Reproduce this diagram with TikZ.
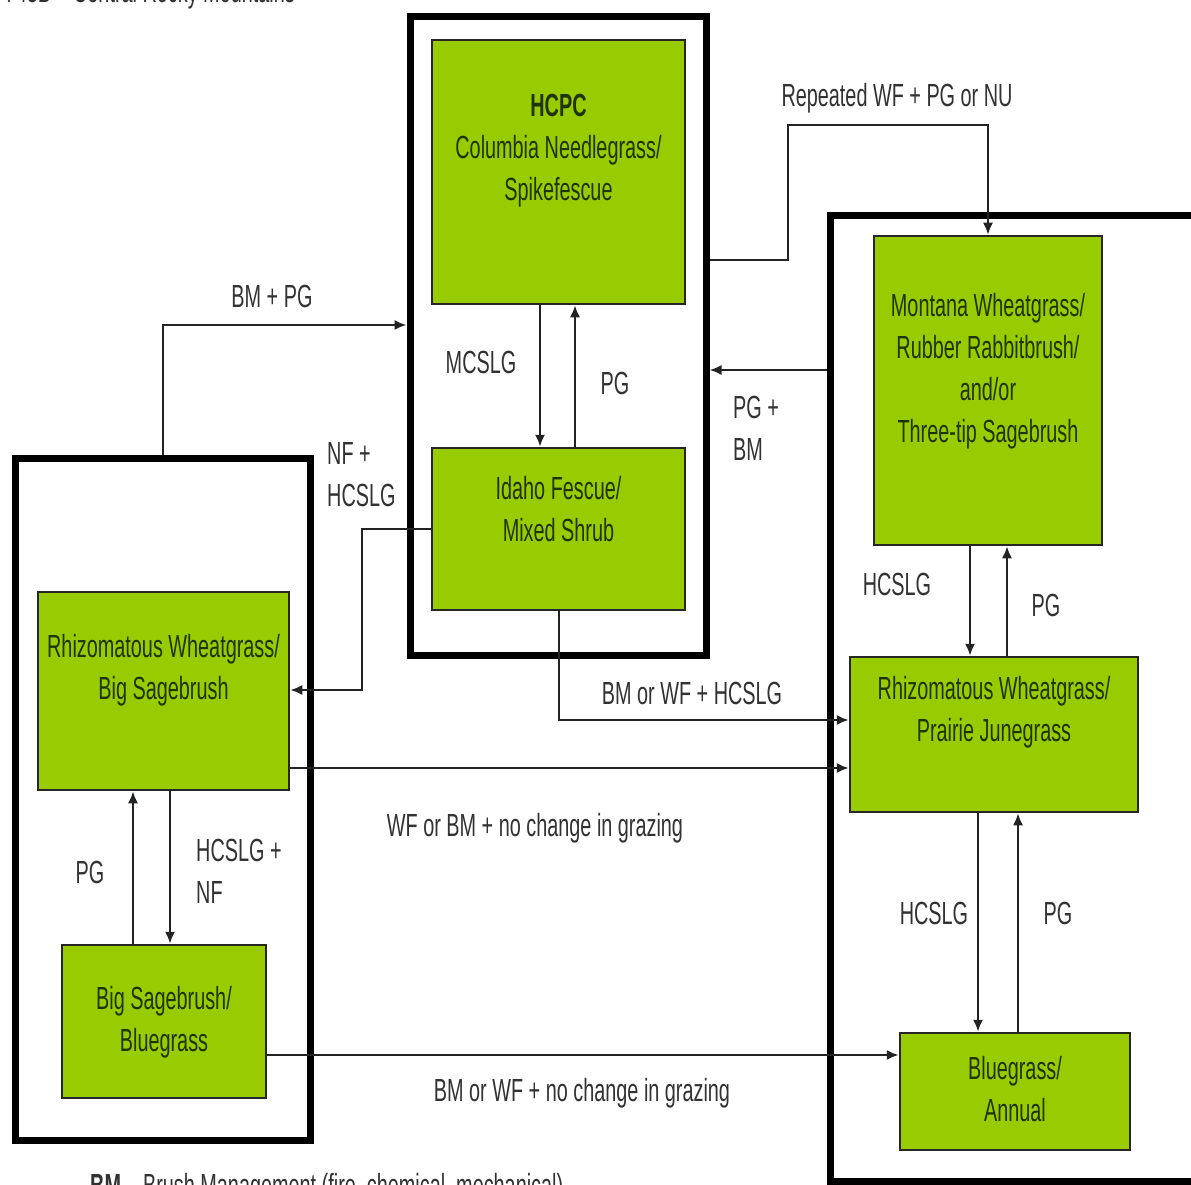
\documentclass[tikz,border=0pt]{standalone}
\usepackage{fontspec}
\setmainfont{Liberation Sans}[FakeStretch=0.62]
\usetikzlibrary{arrows.meta}
\definecolor{gfill}{RGB}{153,204,0}
\definecolor{gtext}{RGB}{32,52,0}
\definecolor{ltext}{RGB}{50,50,50}
\definecolor{cline}{RGB}{35,35,35}
\begin{document}
\begin{tikzpicture}[x=1pt,y=-1pt,
  every node/.style={font=\fontsize{32}{42}\selectfont},
  statebox/.style={draw=black, line width=7pt, inner sep=0pt},
  gbox/.style={draw=black!85, fill=gfill, line width=2.5pt, inner sep=0pt},
  gtxt/.style={text=gtext, align=center, inner sep=0pt},
  lbl/.style={text=ltext, inner sep=0pt},
  conn/.style={draw=cline, line width=2pt},
  arr/.style={conn, -{Latex[length=12pt,width=10pt]}}]
\useasboundingbox (0,0) rectangle (1191,1185);
\fill[white] (0,0) rectangle (1191,1185);

% header / legend (cut by page edges, as in the reference)
\node[lbl, anchor=base east] (hdr) at (295,3) {MLRA 43B – Central Rocky Mountains};
\node[lbl, anchor=base west] (legend) at (90,1196) {\textbf{BM} – Brush Management (fire, chemical, mechanical)};

% state boxes
\node[statebox, minimum width=296pt, minimum height=638pt] (cstate) at (558,336) {};
\node[statebox, minimum width=295pt, minimum height=682pt] (lstate) at (162.5,799) {};
\node[statebox, minimum width=390pt, minimum height=965pt] (rstate) at (1025,698.5) {};

% community boxes
\node[gbox, minimum width=253pt, minimum height=264pt] (hcpc) at (558.5,172) {};
\node[gtxt] (hcpcT) at (558.5,151) {\textbf{HCPC}\\Columbia Needlegrass/\\Spikefescue};

\node[gbox, minimum width=253pt, minimum height=162pt] (idaho) at (558.5,529) {};
\node[gtxt] (idahoT) at (558.5,509) {Idaho Fescue/\\Mixed Shrub};

\node[gbox, minimum width=251pt, minimum height=198pt] (rbs) at (163.5,691) {};
\node[gtxt] (rbsT) at (163.5,670) {Rhizomatous Wheatgrass/\\Big Sagebrush};

\node[gbox, minimum width=204pt, minimum height=153pt] (bsb) at (164,1021.5) {};
\node[gtxt] (bsbT) at (164,1022) {Big Sagebrush/\\Bluegrass};

\node[gbox, minimum width=228pt, minimum height=309pt] (mont) at (988,390.5) {};
\node[gtxt] (montT) at (988,371) {Montana Wheatgrass/\\Rubber Rabbitbrush/\\and/or\\Three-tip Sagebrush};

\node[gbox, minimum width=288pt, minimum height=155pt] (rpj) at (994,734.5) {};
\node[gtxt] (rpjT) at (994,712) {Rhizomatous Wheatgrass/\\Prairie Junegrass};

\node[gbox, minimum width=230pt, minimum height=117pt] (bga) at (1015,1091.5) {};
\node[gtxt] (bgaT) at (1015,1089) {Bluegrass/\\Annual};

% bend coordinates
\coordinate (c325) at (0,325);
\coordinate (r1) at (788,260);
\coordinate (r2) at (788,125);
\coordinate (p370) at (0,370);
\coordinate (n1) at (362,690);
\coordinate (b720) at (0,720);
\coordinate (w768) at (0,768);
\coordinate (y1055) at (0,1055);
\coordinate (x540) at (540,0);
\coordinate (x575) at (575,0);
\coordinate (x133) at (133,0);
\coordinate (x170) at (170,0);
\coordinate (x970) at (970,0);
\coordinate (x1007) at (1007,0);
\coordinate (x978) at (978,0);
\coordinate (x1018) at (1018,0);

% transitions between states
\draw[arr] (lstate.north) |- (cstate.west |- c325);
\draw[arr] (cstate.east |- r1) -- (r1) -- (r2) -| (mont.north);
\draw[arr] (rstate.west |- p370) -- (cstate.east |- p370);
\draw[arr] (idaho.west) -| (n1) -- (rbs.east |- n1);
\draw[arr] (idaho.south) |- (rpj.west |- b720);
\draw[arr] (rbs.east |- w768) -- (rpj.west |- w768);
\draw[arr] (bsb.east |- y1055) -- (bga.west |- y1055);

% within-state transitions
\draw[arr] (hcpc.south -| x540) -- (idaho.north -| x540);
\draw[arr] (idaho.north -| x575) -- (hcpc.south -| x575);
\draw[arr] (bsb.north -| x133) -- (rbs.south -| x133);
\draw[arr] (rbs.south -| x170) -- (bsb.north -| x170);
\draw[arr] (mont.south -| x970) -- (rpj.north -| x970);
\draw[arr] (rpj.north -| x1007) -- (mont.south -| x1007);
\draw[arr] (rpj.south -| x978) -- (bga.north -| x978);
\draw[arr] (bga.north -| x1018) -- (rpj.south -| x1018);

% labels
\node[lbl] (l1) at (272,296) {BM + PG};
\node[lbl] (l2) at (897,98) {Repeated WF + PG or NU};
\node[lbl, align=left, anchor=west] (l3) at (733,428) {PG +\\BM};
\node[lbl, align=left, anchor=west] (l4) at (327,475) {NF +\\HCSLG};
\node[lbl] (l5) at (481,362) {MCSLG};
\node[lbl] (l6) at (615,383) {PG};
\node[lbl] (l7) at (692,693) {BM or WF + HCSLG};
\node[lbl] (l8) at (535,828) {WF or BM + no change in grazing};
\node[lbl] (l9) at (582,1093) {BM or WF + no change in grazing};
\node[lbl] (l10) at (90,872) {PG};
\node[lbl, align=left, anchor=west] (l11) at (196,871) {HCSLG +\\NF};
\node[lbl] (l12) at (897,584) {HCSLG};
\node[lbl] (l13) at (1046,605) {PG};
\node[lbl] (l14) at (934,913) {HCSLG};
\node[lbl] (l15) at (1058,913) {PG};
\end{tikzpicture}
\end{document}
